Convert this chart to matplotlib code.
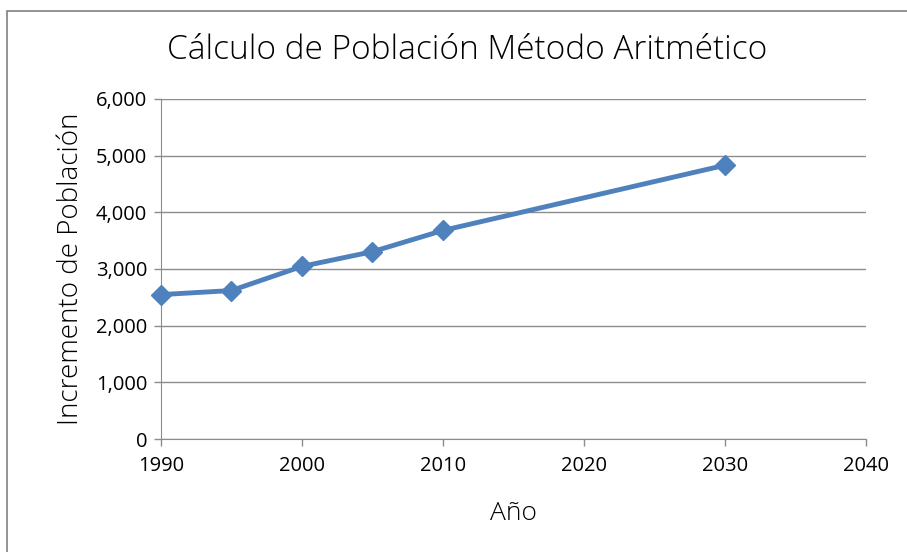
import matplotlib

matplotlib.use("Agg")
import matplotlib.pyplot as plt
from matplotlib.patches import Rectangle

years = [1990, 1995, 2000, 2005, 2010, 2030]
population = [2548, 2620, 3046, 3305, 3680, 4830]
x_ticks = [1990, 2000, 2010, 2020, 2030, 2040]
y_ticks = [0, 1000, 2000, 3000, 4000, 5000, 6000]

BLUE = "#4F81BD"
GRID = "#8C8C8C"

plt.rcParams["font.family"] = ["Open Sans", "DejaVu Sans"]

fig = plt.figure(figsize=(9.07, 5.52), dpi=100)
ax = fig.add_axes([0.1775, 0.2047, 0.777, 0.616])

# outer chart frame
fig.patches.append(Rectangle((0.008, -0.02), 1.1, 1.0, transform=fig.transFigure,
                             fill=False, edgecolor="#808080", linewidth=1.2))

ax.plot(years, population, color=BLUE, linewidth=3.5, marker="D", markersize=10,
        markerfacecolor=BLUE, markeredgecolor=BLUE, zorder=3, clip_on=False)

ax.set_xlim(1990, 2040)
ax.set_ylim(0, 6000)
ax.set_xticks(x_ticks)
ax.set_yticks(y_ticks, [f"{v:,}" for v in y_ticks])
ax.yaxis.grid(True, color=GRID, linewidth=1.0)
ax.set_axisbelow(True)
for side in ("top", "right"):
    ax.spines[side].set_visible(False)
for side in ("left", "bottom"):
    ax.spines[side].set_color(GRID)
ax.tick_params(axis="both", colors=GRID, length=5, width=1, labelsize=14.5,
               labelcolor="black")
ax.tick_params(axis="y", pad=5)
ax.tick_params(axis="x", pad=7)

ax.set_xlabel("Año", fontsize=19, fontweight="light", labelpad=18)
ax.set_ylabel("Incremento de Población", fontsize=20, fontweight="light", labelpad=8)
fig.text(0.515, 0.909, "Cálculo de Población Método Aritmético", ha="center",
         va="center", fontsize=24, fontweight="light")

fig.savefig("out.png", dpi=100, facecolor="white")
